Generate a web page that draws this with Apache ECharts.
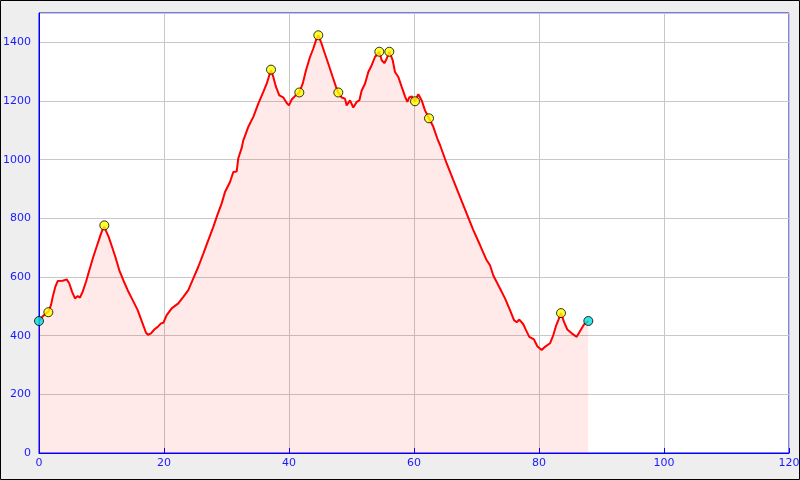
<!DOCTYPE html>
<html>
<head>
<meta charset="utf-8">
<script src="https://cdn.jsdelivr.net/npm/echarts@6/dist/echarts.min.js"></script>
<style>
html,body{margin:0;padding:0;background:#eeeeee;}
#c{width:800px;height:480px;}
</style>
</head>
<body>
<div id="c"></div>
<script>
// Distance (km) and elevation (m) of the profile
var distKm = [0,0.48,1.0,1.5,1.92,2.19,2.6,2.99,3.79,4.43,4.85,5.28,5.76,6.19,6.56,6.99,7.52,8.05,8.69,9.39,9.92,10.19,10.45,10.72,11.15,11.68,12.21,12.85,13.49,14.19,14.99,15.79,16.48,17.12,17.44,17.92,18.45,18.99,19.52,19.9,20.43,21.23,22.29,23.09,23.89,24.69,25.49,26.29,27.09,27.89,28.53,29.23,29.76,30.56,31.09,31.63,31.89,32.43,32.69,33.49,34.29,35.09,35.89,36.43,36.85,37.12,37.49,37.92,38.45,39.09,39.63,40.0,40.43,41.07,41.65,42.19,42.72,43.36,43.89,44.32,44.69,45.12,45.65,46.29,46.99,47.52,47.89,48.43,48.96,49.23,49.76,50.29,50.83,51.25,51.63,52.16,52.69,53.23,53.76,54.45,54.83,55.25,55.63,56.05,56.59,56.96,57.49,58.03,58.56,58.93,59.25,59.63,60.16,60.69,61.23,61.76,62.4,63.09,63.73,64.16,65.23,66.29,67.36,68.43,69.49,70.56,71.63,72.16,72.69,73.76,74.56,75.36,76.0,76.43,76.85,77.49,77.92,78.45,79.2,79.73,80.43,80.96,81.76,82.29,82.72,83.09,83.52,84.0,84.53,85.23,86.03,86.67,87.2,87.89];
var elevM = [450,464,474,482,504,532,566,586,587,592,578,550,527,535,530,550,584,623,669,714,748,762,772,757,737,703,669,623,589,555,521,487,447,410,403,408,421,430,442,444,470,493,510,532,555,595,635,680,726,771,811,851,890,924,958,960,1005,1040,1066,1112,1146,1191,1231,1259,1288,1305,1282,1248,1219,1212,1193,1185,1205,1219,1229,1259,1305,1350,1379,1407,1424,1401,1367,1327,1282,1248,1229,1212,1208,1185,1202,1178,1197,1202,1236,1259,1299,1322,1350,1368,1339,1329,1344,1368,1339,1299,1282,1248,1216,1197,1212,1216,1199,1223,1202,1168,1141,1112,1072,1050,987,930,873,816,760,709,657,640,605,561,527,487,453,446,455,439,419,396,387,364,351,362,374,402,433,453,477,447,421,408,396,419,438,450];

// Waypoints (yellow)
var wpKm = [1.5,10.45,37.12,41.65,44.69,47.89,54.45,56.05,60.16,62.4,83.52];
var wpElev = [480,776,1307,1229,1424,1229,1368,1368,1199,1141,477];

// Start / end points (cyan)
var endKm = [0,87.89];
var endElev = [450,450];

// Axis settings
var xMin = 0, xMax = 120, xStep = 20;
var yMin = 0, yMax = 1500, yStep = 200;

function zip(a,b){ return a.map(function(v,i){ return [v,b[i]]; }); }
function plain(v){ return String(v); }

var chart = echarts.init(document.getElementById('c'), null, {renderer:'canvas'});
var labelStyle = {color:'#1a1aff', fontFamily:'DejaVu Sans', fontSize:11, formatter:plain};
chart.setOption({
  backgroundColor:'#eeeeee',
  animation:false,
  grid:{left:39, right:11, top:13, bottom:27, containLabel:false, outerBoundsMode:'none',
        show:true, backgroundColor:'#ffffff', borderColor:'#0000ff', borderWidth:1},
  xAxis:{
    type:'value', min:xMin, max:xMax, interval:xStep,
    axisLine:{show:true, lineStyle:{color:'#0000ff', width:1}},
    axisTick:{show:true, inside:true, length:5, lineStyle:{color:'#0000ff'}},
    axisLabel:Object.assign({margin:5}, labelStyle),
    splitLine:{show:true, lineStyle:{color:'#c8c8c8', width:1}}
  },
  yAxis:{
    type:'value', min:yMin, max:yMax, interval:yStep,
    axisLine:{show:true, lineStyle:{color:'#0000ff', width:1}},
    axisTick:{show:false},
    axisLabel:Object.assign({margin:8, showMaxLabel:false}, labelStyle),
    splitLine:{show:true, lineStyle:{color:'#c8c8c8', width:1}}
  },
  graphic:[{type:'rect', shape:{x:0.5,y:0.5,width:799,height:479}, style:{fill:'none', stroke:'#000000', lineWidth:1}, z:100}],
  series:[
    {type:'line', data:zip(distKm, elevM), showSymbol:false, symbol:'none',
     lineStyle:{color:'#ff0000', width:2}, areaStyle:{color:'rgba(255,0,0,0.12)', origin:'start'}, z:2},
    {type:'scatter', data:zip(wpKm, wpElev), symbol:'circle', symbolSize:9,
     itemStyle:{color:'#ffff00', borderColor:'#000000', borderWidth:1}, z:5},
    {type:'scatter', data:zip(endKm, endElev), symbol:'circle', symbolSize:9,
     itemStyle:{color:'#00e0e0', borderColor:'#000000', borderWidth:1}, z:5}
  ]
});
</script>
</body>
</html>
